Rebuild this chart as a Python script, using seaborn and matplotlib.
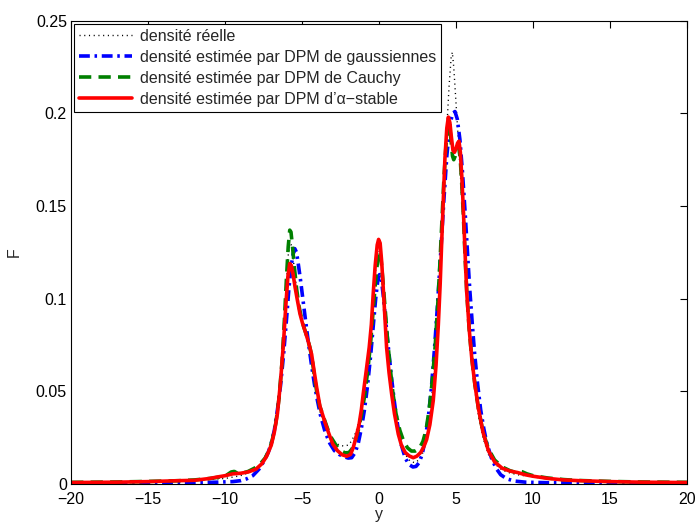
import matplotlib
matplotlib.use("Agg")
import matplotlib.pyplot as plt
import seaborn as sns
import pandas as pd

# ---- data ----
x_reelle = [-20, -15, -12, -10, -9, -8.5, -8, -7.6, -7.3, -7.0, -6.8, -6.6, -6.4, -6.2, -6.05,
            -5.92, -5.8, -5.7, -5.58, -5.45, -5.3, -5.14, -4.98, -4.8, -4.6, -4.4, -4.2, -4.0,
            -3.8, -3.5, -3.2, -2.9, -2.6, -2.3, -2.0, -1.8, -1.5, -1.25, -1.0, -0.8, -0.6, -0.45,
            -0.3, -0.15, -0.03, 0.08, 0.2, 0.35, 0.5, 0.65, 0.8, 1.0, 1.2, 1.45, 1.7, 2.0, 2.3,
            2.6, 2.85, 3.1, 3.35, 3.6, 3.8, 3.97, 4.1, 4.25, 4.4, 4.55, 4.68, 4.76, 4.85, 4.95,
            5.1, 5.25, 5.4, 5.55, 5.7, 5.85, 6.0, 6.2, 6.45, 6.75, 7.1, 7.5, 8.0, 8.5, 9.0, 10,
            12, 15, 20]
y_reelle = [0.0008, 0.0012, 0.002, 0.003, 0.0045, 0.006, 0.008, 0.011, 0.015, 0.021, 0.028,
            0.038, 0.055, 0.08, 0.103, 0.122, 0.13, 0.129, 0.122, 0.112, 0.102, 0.094, 0.088,
            0.083, 0.076, 0.067, 0.056, 0.046, 0.038, 0.031, 0.026, 0.023, 0.021, 0.0205, 0.021,
            0.023, 0.028, 0.036, 0.047, 0.06, 0.076, 0.092, 0.108, 0.122, 0.128, 0.125, 0.114,
            0.096, 0.079, 0.063, 0.05, 0.038, 0.029, 0.021, 0.016, 0.0125, 0.0115, 0.013, 0.017,
            0.025, 0.04, 0.064, 0.09, 0.118, 0.142, 0.168, 0.192, 0.215, 0.23, 0.233, 0.225,
            0.212, 0.192, 0.172, 0.15, 0.127, 0.104, 0.085, 0.068, 0.052, 0.037, 0.025, 0.016,
            0.011, 0.0075, 0.006, 0.005, 0.0038, 0.002, 0.0012, 0.0008]

x_gauss = [-20, -15, -12, -10.5, -9.5, -9, -8.6, -8.2, -7.8, -7.5, -7.2, -7.0, -6.8, -6.6, -6.4,
           -6.2, -6.0, -5.85, -5.7, -5.58, -5.47, -5.36, -5.25, -5.1, -4.95, -4.8, -4.6, -4.4,
           -4.2, -4.0, -3.8, -3.5, -3.2, -2.9, -2.6, -2.3, -2.0, -1.78, -1.55, -1.35, -1.15,
           -0.95, -0.75, -0.55, -0.38, -0.22, -0.08, 0.03, 0.14, 0.27, 0.42, 0.6, 0.8, 1.0, 1.2,
           1.45, 1.7, 1.95, 2.2, 2.4, 2.6, 2.8, 3.0, 3.2, 3.4, 3.6, 3.8, 4.0, 4.2, 4.4, 4.6,
           4.78, 4.93, 5.08, 5.25, 5.42, 5.6, 5.75, 5.9, 6.05, 6.2, 6.4, 6.6, 6.8, 7.0, 7.3,
           7.6, 7.9, 8.3, 8.8, 9.5, 11, 14, 20]
y_gauss = [0.0005, 0.0005, 0.0007, 0.001, 0.0013, 0.0018, 0.0028, 0.0045, 0.008, 0.012, 0.017,
           0.022, 0.029, 0.04, 0.053, 0.07, 0.09, 0.106, 0.118, 0.124, 0.127, 0.125, 0.119, 0.11,
           0.1, 0.09, 0.077, 0.065, 0.054, 0.045, 0.037, 0.028, 0.022, 0.018, 0.016, 0.0148,
           0.014, 0.0142, 0.017, 0.022, 0.03, 0.04, 0.053, 0.069, 0.085, 0.1, 0.11, 0.113, 0.111,
           0.102, 0.089, 0.074, 0.058, 0.044, 0.032, 0.021, 0.014, 0.0105, 0.0092, 0.0095,
           0.0115, 0.016, 0.024, 0.036, 0.052, 0.073, 0.097, 0.124, 0.152, 0.177, 0.194, 0.2,
           0.201, 0.197, 0.186, 0.168, 0.145, 0.124, 0.104, 0.087, 0.071, 0.054, 0.04, 0.03,
           0.022, 0.014, 0.0085, 0.005, 0.0028, 0.0016, 0.001, 0.0007, 0.0005, 0.0005]

x_cauchy = [-20, -17, -15, -13, -12, -11, -10.3, -9.9, -9.6, -9.4, -9.2, -8.9, -8.5, -8.1, -7.7,
            -7.4, -7.1, -6.9, -6.7, -6.5, -6.3, -6.15, -6.02, -5.9, -5.8, -5.72, -5.62, -5.5,
            -5.35, -5.2, -5.05, -4.9, -4.7, -4.5, -4.35, -4.2, -4.05, -3.85, -3.6, -3.35, -3.1,
            -2.8, -2.5, -2.2, -1.95, -1.75, -1.55, -1.35, -1.15, -0.95, -0.75, -0.55, -0.38,
            -0.22, -0.08, 0.02, 0.12, 0.25, 0.4, 0.55, 0.72, 0.9, 1.1, 1.35, 1.6, 1.85, 2.1,
            2.35, 2.6, 2.85, 3.05, 3.25, 3.45, 3.65, 3.82, 3.97, 4.1, 4.22, 4.35, 4.47, 4.57,
            4.67, 4.77, 4.85, 4.95, 5.07, 5.17, 5.27, 5.37, 5.47, 5.58, 5.7, 5.85, 6.02, 6.22,
            6.45, 6.75, 7.1, 7.5, 8.0, 8.5, 8.9, 9.15, 9.3, 9.6, 10, 11, 12, 13, 15, 17, 20]
y_cauchy = [0.0009, 0.0011, 0.0014, 0.0018, 0.0022, 0.003, 0.0038, 0.0048, 0.0065, 0.0068,
            0.0058, 0.0058, 0.0068, 0.0085, 0.011, 0.014, 0.019, 0.025, 0.033, 0.046, 0.066,
            0.088, 0.11, 0.128, 0.137, 0.136, 0.128, 0.117, 0.105, 0.096, 0.09, 0.085, 0.08,
            0.074, 0.068, 0.058, 0.05, 0.042, 0.036, 0.03, 0.025, 0.021, 0.018, 0.0168, 0.017,
            0.019, 0.023, 0.029, 0.037, 0.047, 0.06, 0.076, 0.094, 0.11, 0.122, 0.126, 0.122,
            0.11, 0.094, 0.078, 0.063, 0.049, 0.038, 0.029, 0.023, 0.0195, 0.0178, 0.0178, 0.019,
            0.023, 0.029, 0.04, 0.055, 0.075, 0.098, 0.122, 0.145, 0.166, 0.183, 0.193, 0.194,
            0.186, 0.177, 0.175, 0.177, 0.181, 0.182, 0.176, 0.162, 0.146, 0.124, 0.103, 0.084,
            0.068, 0.054, 0.041, 0.028, 0.019, 0.013, 0.0092, 0.0072, 0.0062, 0.0068, 0.0066,
            0.0055, 0.0045, 0.0032, 0.0024, 0.0019, 0.0014, 0.0011, 0.0009]

x_stable = [-20, -17, -15, -13, -12, -11, -10.5, -10, -9.5, -9, -8.5, -8.0, -7.6, -7.3, -7.0,
            -6.8, -6.6, -6.4, -6.2, -6.05, -5.92, -5.8, -5.7, -5.58, -5.45, -5.3, -5.14, -4.98,
            -4.82, -4.6, -4.38, -4.2, -4.05, -3.84, -3.65, -3.5, -3.25, -3.0, -2.7, -2.4, -2.1,
            -1.85, -1.68, -1.5, -1.3, -1.15, -1.03, -0.85, -0.64, -0.5, -0.38, -0.25, -0.12,
            -0.03, 0.07, 0.17, 0.27, 0.38, 0.49, 0.65, 0.82, 1.0, 1.25, 1.45, 1.7, 1.95, 2.22,
            2.45, 2.7, 2.9, 3.09, 3.3, 3.52, 3.7, 3.85, 3.97, 4.07, 4.18, 4.28, 4.4, 4.5, 4.6,
            4.7, 4.8, 4.9, 5.0, 5.1, 5.19, 5.28, 5.38, 5.47, 5.58, 5.69, 5.85, 6.02, 6.22, 6.45,
            6.75, 7.1, 7.5, 8.0, 8.5, 9.0, 9.5, 10, 11, 12, 13, 15, 17, 20]
y_stable = [0.0008, 0.001, 0.0013, 0.0018, 0.002, 0.003, 0.0038, 0.0045, 0.0055, 0.0058,
            0.0065, 0.008, 0.011, 0.015, 0.021, 0.028, 0.038, 0.055, 0.077, 0.097, 0.112, 0.119,
            0.118, 0.113, 0.106, 0.099, 0.092, 0.087, 0.083, 0.077, 0.07, 0.06, 0.052, 0.042,
            0.037, 0.033, 0.027, 0.0215, 0.018, 0.0158, 0.015, 0.016, 0.0196, 0.025, 0.032, 0.04,
            0.0485, 0.06, 0.0737, 0.086, 0.1026, 0.118, 0.129, 0.132, 0.13, 0.12, 0.106, 0.09,
            0.0737, 0.06, 0.0485, 0.038, 0.0269, 0.021, 0.017, 0.0152, 0.0142, 0.015, 0.017,
            0.02, 0.024, 0.032, 0.045, 0.064, 0.086, 0.108, 0.131, 0.155, 0.176, 0.192, 0.198,
            0.195, 0.187, 0.18, 0.179, 0.181, 0.184, 0.185, 0.179, 0.165, 0.149, 0.126, 0.104,
            0.084, 0.068, 0.054, 0.041, 0.028, 0.018, 0.012, 0.0085, 0.007, 0.0062, 0.005,
            0.0042, 0.003, 0.0022, 0.0018, 0.0013, 0.001, 0.0008]

labels = ["densité réelle",
          "densité estimée par DPM de gaussiennes",
          "densité estimée par DPM de Cauchy",
          "densité estimée par DPM d\u2019\u03b1\u2212stable"]

xticks = [-20, -15, -10, -5, 0, 5, 10, 15, 20]
xtick_labels = ["\u221220", "\u221215", "\u221210", "\u22125", "0", "5", "10", "15", "20"]
yticks = [0, 0.05, 0.1, 0.15, 0.2, 0.25]
ytick_labels = ["0", "0.05", "0.1", "0.15", "0.2", "0.25"]

# ---- plotting ----
sns.set_style("white")
plt.rcParams['font.family'] = ['Liberation Sans', 'DejaVu Sans']

fig = plt.figure(figsize=(6.95, 5.26), dpi=100)
ax = fig.add_axes([0.1023, 0.0798, 0.8862, 0.8808])

series = [
    (x_reelle, y_reelle, "black", 1.0, (0.8, 2.6)),
    (x_gauss, y_gauss, "#0000ff", 2.6, (3.0, 1.3, 0.7, 1.3)),
    (x_cauchy, y_cauchy, "#008000", 2.6, (3.4, 2.0)),
    (x_stable, y_stable, "#ff0000", 2.6, None),
]
for (xs, ys, col, lw, dashes), lab in zip(series, labels):
    df = pd.DataFrame({"y": xs, "F": ys})
    sns.lineplot(data=df, x="y", y="F", ax=ax, label=lab, sort=False,
                 estimator=None, color=col, linewidth=lw)
    ln = ax.lines[-1]
    ln.set_solid_joinstyle("round")
    ln.set_dash_joinstyle("round")
    if dashes is not None:
        ln.set_dashes(dashes)

ax.set_xlim(-20, 20)
ax.set_ylim(0, 0.25)
ax.set_xticks(xticks)
ax.set_xticklabels(xtick_labels)
ax.set_yticks(yticks)
ax.set_yticklabels(ytick_labels)
ax.tick_params(direction="in", length=5, width=0.8, top=True, right=True,
               labelsize=11.5, colors="black")
ax.tick_params(axis="x", pad=6)
ax.tick_params(axis="y", pad=3)
for s in ax.spines.values():
    s.set_color("black")
    s.set_linewidth(0.8)
ax.set_xlabel("y", fontsize=11.5, labelpad=0)
ax.set_ylabel("F", fontsize=11.5, labelpad=10)

leg = ax.legend(loc="upper left", fontsize=11.5, frameon=True, fancybox=False,
                edgecolor="black", framealpha=1, handlelength=3.3, handletextpad=0.5,
                borderpad=0.3, labelspacing=0.38, borderaxespad=0.2)
leg.get_frame().set_linewidth(0.8)

fig.savefig("out.png", dpi=100)
